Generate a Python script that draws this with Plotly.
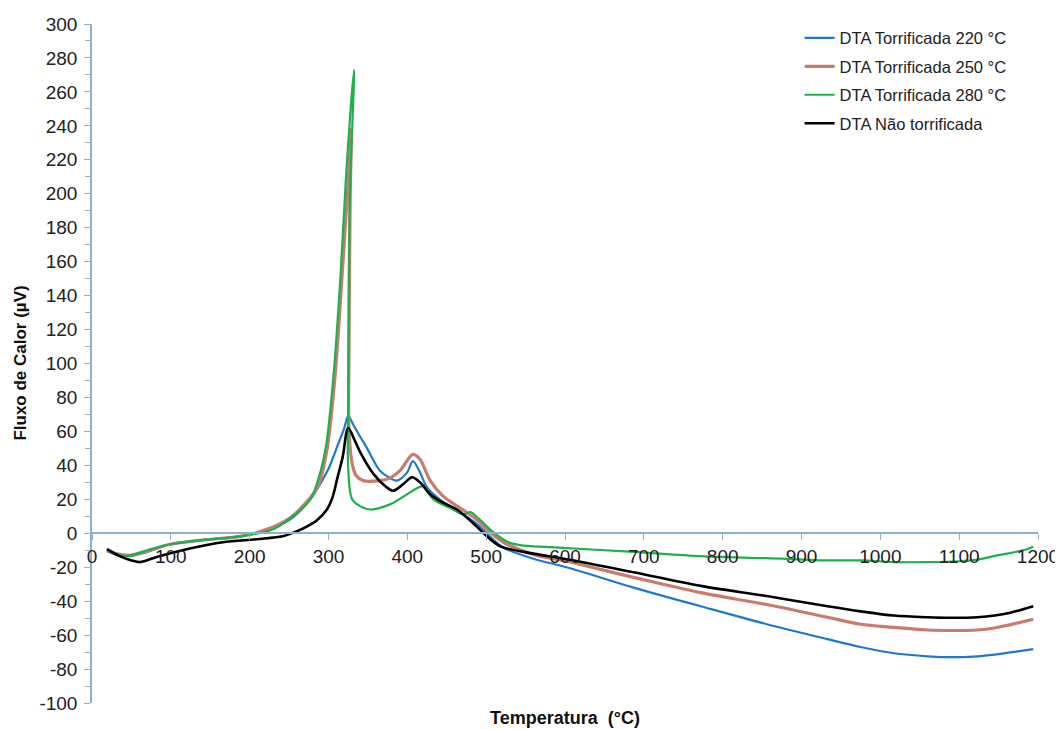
import plotly.graph_objects as go

# ---- data ----
temp_220 = [19, 30, 48, 70, 99, 140, 188, 220, 251, 277, 285.5, 300, 311, 320, 325, 332, 340, 349, 357, 365, 378, 387, 400, 407, 416, 425, 441, 458, 475, 492, 505, 522, 560, 602, 687, 772, 856, 933, 975, 1017, 1060, 1090, 1123, 1145, 1165, 1194]
dta_220 = [-10.6, -12.5, -13.5, -11, -6.5, -4, -1.8, 1.8, 8, 20, 26, 38, 51, 62, 69, 63.5, 57, 50, 43, 37, 32.5, 31, 36, 42.5, 36, 27, 20, 15, 10, 4, -2, -8.5, -15, -20, -32, -43, -53.6, -62.4, -67, -70.7, -72.5, -73, -72.5, -71.5, -70.2, -68.3]

temp_250 = [19, 30, 48, 70, 99, 140, 188, 220, 251, 277, 287, 298, 308, 317, 325, 329, 327.5, 326, 326, 330, 335, 344, 365, 378, 391, 407, 416, 429, 445, 463, 475, 488, 505, 522, 560, 602, 687, 772, 856, 933, 975, 1017, 1060, 1090, 1123, 1145, 1165, 1194]
dta_250 = [-10, -12, -13, -10.5, -6.5, -4, -1.8, 2, 9, 21, 28, 49, 91, 150, 208, 238, 197, 108, 61, 41, 34, 31, 31, 32.5, 37, 46.5, 43.6, 31, 22, 16, 12.4, 8, 0.6, -5.3, -12.5, -16.5, -26, -35, -42, -49.5, -53.6, -55.4, -57, -57.3, -57, -55.8, -53.8, -50.7]

temp_280 = [19, 30, 44, 70, 99, 140, 188, 230, 260, 277, 283, 296, 306, 315, 322, 329, 332.5, 327, 325, 325, 330, 340, 353, 378, 414, 420, 433, 454, 471, 480, 492, 509, 527, 543, 581, 687, 772, 856, 933, 975, 1017, 1060, 1100, 1123, 1144, 1186, 1194]
dta_280 = [-9.4, -12, -13.5, -10, -6.5, -4, -1.8, 2.4, 12, 20, 26, 49, 91, 150, 208, 256, 273, 197, 79, 38, 20, 16, 14, 17, 27, 27.5, 20, 15, 11, 12.4, 8, 0.6, -5, -7, -8.2, -11, -13.5, -14.7, -16, -16, -17, -17, -16.5, -15.5, -13.5, -9.4, -8]

temp_nt = [19, 35, 50, 61, 82, 124, 166, 209, 242, 260, 273, 285, 298, 305, 311, 318, 325, 333, 340, 357, 374, 382, 395, 406, 416, 429, 445, 463, 475, 488, 501, 518, 560, 602, 687, 772, 856, 933, 975, 1017, 1060, 1090, 1123, 1145, 1165, 1194]
dta_nt = [-9.4, -13.5, -16, -17, -14, -9, -5.3, -3.5, -1.8, 1.2, 4, 7.5, 14, 21, 32, 45, 62, 55, 48, 35, 27, 25, 29, 33, 30, 23, 18, 14, 9.4, 4, -1.8, -7.7, -12, -15.3, -23, -31, -37, -43, -46, -48.5, -49.5, -49.8, -49.5, -48.5, -46.8, -43]

series_names = ["DTA Torrificada 220 °C", "DTA Torrificada 250 °C", "DTA Torrificada 280 °C", "DTA Não torrificada"]
series_x = [temp_220, temp_250, temp_280, temp_nt]
series_y = [dta_220, dta_250, dta_280, dta_nt]
series_colors = ["#1f78d1", "#c97b6e", "#1fb04e", "#000000"]
series_widths = [2.2, 3.2, 2.2, 2.6]

x_ticks = list(range(0, 1201, 100))
y_ticks = list(range(-100, 301, 20))

AXIS_COLOR = "#8db2c9"
FONT = "Liberation Sans, Arial, sans-serif"

fig = go.Figure()
for i, (name, xs, ys, c, w) in enumerate(zip(series_names, series_x, series_y, series_colors, series_widths)):
    fig.add_trace(go.Scatter(
        x=xs, y=ys, name=name, mode="lines",
        line=dict(color=c, width=w, shape="spline", smoothing=0.9),
        legendgroup=f"g{i}",
    ))

# the page adds an 8 px body margin, so the figure is 8 px smaller and margins shifted
fig.update_layout(
    width=1055, height=721,
    margin=dict(l=84, r=25, t=16, b=26, autoexpand=False),
    paper_bgcolor="white", plot_bgcolor="white",
    font=dict(family=FONT, color="#222222"),
    showlegend=True,
    legend=dict(
        x=0.748, y=1.005, xanchor="left", yanchor="top",
        font=dict(size=16.5, color="#222222"),
        traceorder="grouped", tracegroupgap=4,
        bgcolor="rgba(255,255,255,0)",
    ),
    xaxis=dict(
        range=[0, 1200], tickvals=x_ticks, ticktext=[str(v) for v in x_ticks],
        anchor="free", position=0.25, automargin=False,
        showline=True, linecolor=AXIS_COLOR, linewidth=1.5,
        ticks="outside", ticklen=6, tickcolor=AXIS_COLOR, tickwidth=1.2,
        showgrid=False, zeroline=False,
        tickfont=dict(size=19, color="#222222"),
    ),
    yaxis=dict(
        range=[-100, 300], tickvals=y_ticks, ticktext=[str(v) for v in y_ticks],
        automargin=False,
        showline=True, linecolor=AXIS_COLOR, linewidth=1.5,
        ticks="outside", ticklen=6, tickcolor=AXIS_COLOR, tickwidth=1.2,
        minor=dict(ticks="outside", ticklen=5, dtick=10, tickcolor=AXIS_COLOR, showgrid=False),
        showgrid=False, zeroline=False,
        tickfont=dict(size=19, color="#222222"),
        ticklabelstandoff=3,
    ),
    annotations=[
        dict(text="<b>Temperatura  (°C)</b>", xref="paper", yref="paper", x=0.5, y=0,
             yshift=-15, xanchor="center", yanchor="middle", showarrow=False,
             font=dict(size=18, color="#111111")),
        dict(text="<b>Fluxo de Calor (µV)</b>", xref="paper", yref="paper", x=-0.076, y=0.5,
             xanchor="center", yanchor="middle", textangle=-90, showarrow=False,
             font=dict(size=17, color="#111111")),
    ],
)

fig.write_html("out.html")
